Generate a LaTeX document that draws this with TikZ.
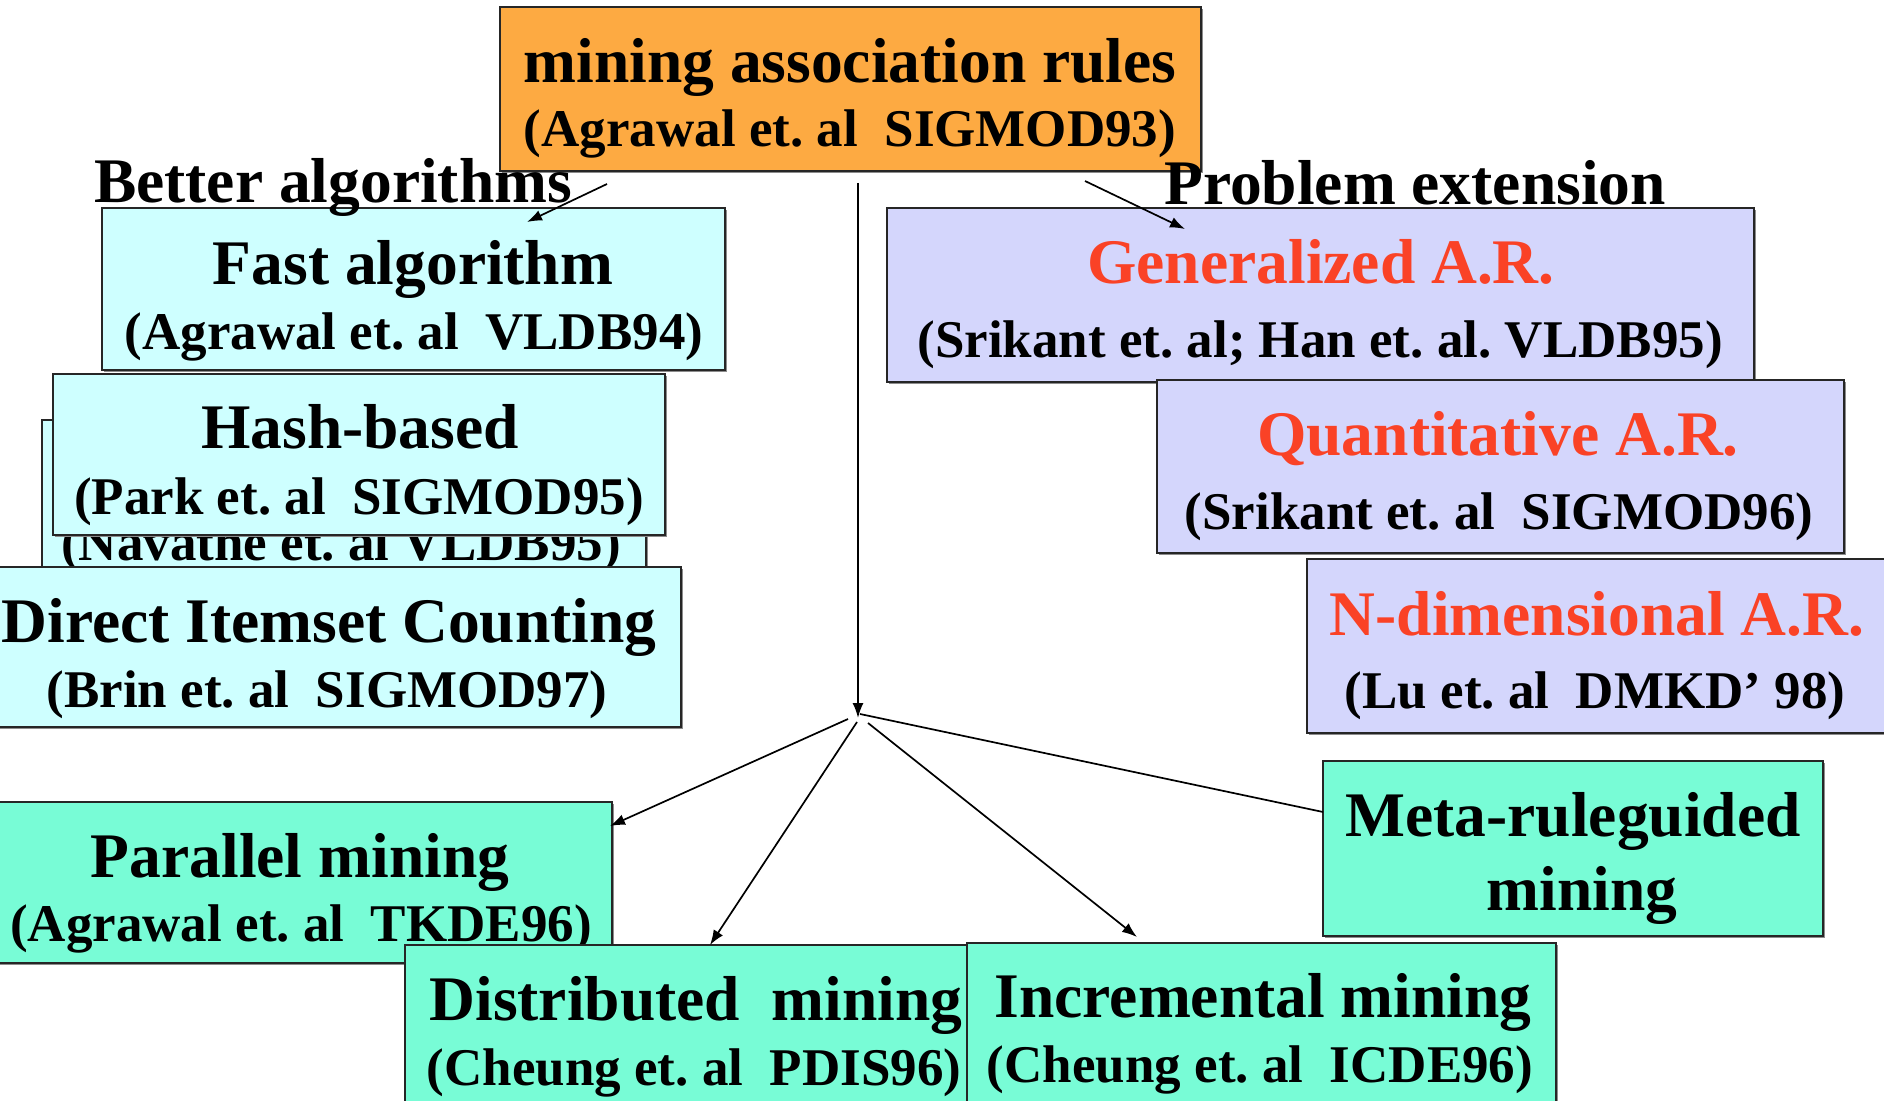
\documentclass[tikz,border=0pt]{standalone}
\usepackage{fontspec}
\setmainfont{Liberation Serif}
\usetikzlibrary{arrows.meta,fit,shadows}
\frenchspacing

\definecolor{rootfill}{RGB}{253,170,66}
\definecolor{algfill}{RGB}{206,255,255}
\definecolor{extfill}{RGB}{212,214,252}
\definecolor{minefill}{RGB}{120,252,214}
\definecolor{artitle}{RGB}{250,66,38}

\tikzset{
  box/.style={draw=black!85, line width=1pt, inner sep=0pt,
    drop shadow={shadow xshift=1pt, shadow yshift=-1pt, fill=black!45, opacity=1}},
  big/.style={anchor=base, inner sep=0pt, font=\fontsize{31.75}{34}\selectfont\bfseries},
  small/.style={anchor=base, inner sep=0pt, font=\fontsize{26.5}{28}\selectfont\bfseries},
  redtitle/.style={big, text=artitle},
  link/.style={line width=0.85pt, -{Latex[length=7.5pt,width=5.5pt]}},
  plainlink/.style={line width=0.85pt}
}

\begin{document}
\begin{tikzpicture}[x=0.5pt,y=-0.5pt]
\fill[white] (0,0) rectangle (1884,1101);
\useasboundingbox (0,0) rectangle (1884,1101);
\clip (0,0) rectangle (1884,1101);

% root topic
\node[box, fill=rootfill, fit={(500,7) (1201,171)}] (root) {};
\node[big] (rootA) at (850,83) {mining association rules};
\node[small] (rootB) at (850,147) {(Agrawal et. al~~SIGMOD93)};

% better algorithms (left column)
\node[box, fill=algfill, fit={(102,208) (725,370)}] (fast) {};
\node[big] (fastA) at (413,285) {Fast algorithm};
\node[small] (fastB) at (414,350) {(Agrawal et. al~~VLDB94)};

\node[box, fill=algfill, fit={(42,420) (646,600)}] (part) {};
\node[small] (partB) at (341,560) {(Navathe et. al VLDB95)};

\node[box, fill=algfill, fit={(53,374) (665,535)}] (hash) {};
\node[big] (hashA) at (360,448) {Hash-based};
\node[small] (hashB) at (359,514) {(Park et. al~~SIGMOD95)};

\node[box, fill=algfill, fit={(-30,567) (681,727)}] (dic) {};
\node[big] (dicA) at (329,642) {Direct Itemset Counting};
\node[small] (dicB) at (327,707) {(Brin et. al~~SIGMOD97)};

% problem extension (right column)
\node[box, fill=extfill, fit={(887,208) (1754,382)}] (gen) {};
\node[redtitle] (genA) at (1321,284) {Generalized A.R.};
\node[small] (genB) at (1320,358) {(Srikant et. al; Han et. al. VLDB95)};

\node[box, fill=extfill, fit={(1157,380) (1844,553)}] (quant) {};
\node[redtitle] (quantA) at (1498,455) {Quantitative A.R.};
\node[small] (quantB) at (1499,529) {(Srikant et. al~~SIGMOD96)};

\node[box, fill=extfill, fit={(1307,559) (1910,733)}] (ndim) {};
\node[redtitle] (ndimA) at (1597,635) {N-dimensional A.R.};
\node[small] (ndimB) at (1595,708) {(Lu et. al~~DMKD’ 98)};

% mining variants (bottom row)
\node[box, fill=minefill, fit={(-30,802) (612,963)}] (par) {};
\node[big] (parA) at (300,877) {Parallel mining};
\node[small] (parB) at (301,941) {(Agrawal et. al~~TKDE96)};

\node[box, fill=minefill, fit={(405,945) (980,1130)}] (dist) {};
\node[big] (distA) at (696,1020) {Distributed~~mining};
\node[small] (distB) at (694,1085) {(Cheung et. al~~PDIS96)};

\node[box, fill=minefill, fit={(967,943) (1556,1130)}] (incr) {};
\node[big] (incrA) at (1263,1017) {Incremental mining};
\node[small] (incrB) at (1260,1082) {(Cheung et. al~~ICDE96)};

\node[box, fill=minefill, fit={(1323,761) (1823,936)}] (meta) {};
\node[big] (metaA) at (1573,836) {Meta-ruleguided};
\node[big] (metaB) at (1582,910) {mining};

% branch headings
\node[big] (better) at (333,203) {Better algorithms};
\node[big] (problem) at (1415,205) {Problem extension};

% connector end points
\coordinate (rootL) at (607,184);
\coordinate (fastIn) at (527,222);
\coordinate (rootR) at (1085,181);
\coordinate (genIn) at (1185,229);
\coordinate (rootS) at (858,183);
\coordinate (hub) at (858,718);
\coordinate (hubP) at (848,719);
\coordinate (parIn) at (610,826);
\coordinate (hubD) at (857,722);
\coordinate (distIn) at (710,945);
\coordinate (hubI) at (868,723);
\coordinate (incrIn) at (1137,937);
\coordinate (hubM) at (860,714);
\coordinate (metaIn) at (1323,812);

% connectors
\draw[link] (rootL) -- (fastIn);
\draw[link] (rootR) -- (genIn);
\draw[link] (rootS) -- (hub);
\draw[link] (hubP) -- (parIn);
\draw[link] (hubD) -- (distIn);
\draw[link] (hubI) -- (incrIn);
\draw[plainlink] (hubM) -- (metaIn);
\end{tikzpicture}
\end{document}
